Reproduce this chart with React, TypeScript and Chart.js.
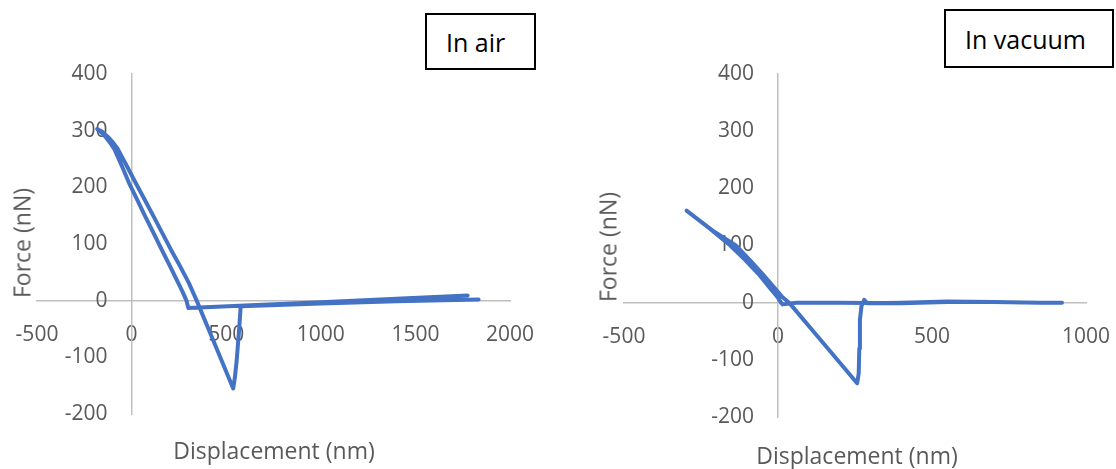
import React, { useEffect, useRef } from "react";
import { Chart, registerables } from "chart.js";

Chart.register(...registerables);

// ---- Data: "In air" (displacement nm, force nN), traced in drawing order ----
const airX = [1776, 1400, 1000, 600, 300, 290, 269, 247, 203, 159, 115, 70, 28, -14, -52, -92, -110, -135, -160, -182, -155, -125, -98, -74, -26, 21, 68, 114, 161, 208, 256, 303, 344, 440, 537, 546, 555, 569, 576, 580, 1000, 1400, 1834];
const airY = [9, 3.4, -2.6, -8.5, -13, 0, 16, 31, 61, 90, 120, 150, 179, 208, 238, 268, 277, 288, 297, 303, 298, 289, 279, 268, 238, 208, 179, 150, 120, 90, 61, 31, 0, -77, -155, -135, -107, -48, -13, -10, -5, -1, 2];

// ---- Data: "In vacuum" ----
const vacX = [920, 850, 700, 550, 400, 200, 60, 15, 10, -2, -25, -63, -107, -155, -222, -297, -212, -137, -92, -50, -10, 14, 36, 146, 257, 262, 264, 266, 271, 280, 290, 400, 550, 700, 850, 922];
const vacY = [0, 0, 1, 1, -1, 0, 0, -3, 0, 10, 25, 50, 75, 100, 130, 161, 126, 100, 75, 50, 25, 10, 0, -70, -141, -124, -80, -30, -6, 5, -1, 0, 2, 1, 0, 0];

// ---- Axis ticks ----
const airXTicks = [-500, 0, 500, 1000, 1500, 2000];
const vacXTicks = [-500, 0, 500, 1000];
const forceTicks = [-200, -100, 0, 100, 200, 300, 400];

const BLUE = "#4472C4";
const AXIS = "#BFBFBF";
const LABEL = "#595959";
const FONT = "'Open Sans', 'Liberation Sans', sans-serif";
const LABEL_GAP = 24;

const zeroPadding = (s: any) => {
  s.paddingLeft = 0;
  s.paddingRight = 0;
  s.paddingTop = 0;
  s.paddingBottom = 0;
};

type PanelProps = {
  xs: number[];
  ys: number[];
  xTicks: number[];
  left: number;
  width: number;
  pad: { left: number; right: number; top: number; bottom: number };
};

function Panel({ xs, ys, xTicks, left, width, pad }: PanelProps) {
  const ref = useRef<HTMLCanvasElement | null>(null);
  useEffect(() => {
    if (!ref.current) return;
    const xMin = xTicks[0];
    const xMax = xTicks[xTicks.length - 1];
    const xStep = xTicks[1] - xTicks[0];
    const yMin = forceTicks[0];
    const yMax = forceTicks[forceTicks.length - 1];
    const yStep = forceTicks[1] - forceTicks[0];
    const areaW = width - pad.left - pad.right;
    // x value lying LABEL_GAP px left of x = 0: anchor for the y tick labels
    const labelX = (-LABEL_GAP * (xMax - xMin)) / areaW;
    const tickFont = { family: FONT, size: 21 };
    const noGrid = { drawOnChartArea: false, drawTicks: false };
    const chart = new Chart(ref.current, {
      type: "scatter",
      data: {
        datasets: [
          {
            data: xs.map((x, i) => ({ x, y: ys[i] })),
            showLine: true,
            borderColor: BLUE,
            backgroundColor: BLUE,
            borderWidth: 4,
            pointRadius: 0,
            tension: 0,
            borderJoinStyle: "round",
            borderCapStyle: "round",
          },
        ],
      },
      options: {
        animation: false,
        responsive: false,
        maintainAspectRatio: false,
        layout: { padding: pad },
        plugins: { legend: { display: false }, tooltip: { enabled: false } },
        scales: {
          x: {
            type: "linear",
            position: { y: 0 } as any,
            min: xMin,
            max: xMax,
            ticks: {
              stepSize: xStep,
              color: LABEL,
              font: tickFont,
              padding: 22,
              maxRotation: 0,
              autoSkip: false,
              callback: (v: any) => String(v),
            },
            grid: noGrid,
            border: { color: AXIS, width: 1.5 },
            afterFit: zeroPadding,
          },
          y: {
            type: "linear",
            position: { x: 0 } as any,
            min: yMin,
            max: yMax,
            ticks: { display: false, stepSize: yStep },
            grid: noGrid,
            border: { color: AXIS, width: 1.5 },
            afterFit: zeroPadding,
          },
          yLabels: {
            type: "linear",
            axis: "y",
            position: { x: labelX } as any,
            min: yMin,
            max: yMax,
            ticks: {
              stepSize: yStep,
              color: LABEL,
              font: tickFont,
              autoSkip: false,
              callback: (v: any) => String(v),
            },
            grid: noGrid,
            border: { display: false },
            afterFit: zeroPadding,
          },
        },
      },
    });
    return () => chart.destroy();
  }, []);
  return (
    <canvas
      ref={ref}
      width={width}
      height={469}
      style={{ position: "absolute", left, top: 0, width, height: 469, display: "block" }}
    />
  );
}

const textBase: React.CSSProperties = {
  position: "absolute",
  fontFamily: FONT,
  whiteSpace: "nowrap",
  lineHeight: 1,
};

function YTitle({ cx, cy }: { cx: number; cy: number }) {
  return (
    <div
      style={{
        ...textBase,
        left: cx,
        top: cy,
        fontSize: 23,
        color: LABEL,
        transform: "translate(-50%, -50%) rotate(-90deg)",
      }}
    >
      Force (nN)
    </div>
  );
}

function XTitle({ cx, cy }: { cx: number; cy: number }) {
  return (
    <div
      style={{
        ...textBase,
        left: cx,
        top: cy,
        fontSize: 23,
        color: LABEL,
        transform: "translate(-50%, -50%)",
      }}
    >
      Displacement (nm)
    </div>
  );
}

function Box({ x, y, w, h, text }: { x: number; y: number; w: number; h: number; text: string }) {
  return (
    <div
      style={{
        position: "absolute",
        left: x,
        top: y,
        width: w,
        height: h,
        boxSizing: "border-box",
        border: "2px solid #000",
        background: "#fff",
        display: "flex",
        alignItems: "center",
        paddingLeft: 19,
        fontFamily: FONT,
        fontSize: 25,
        color: "#000",
        whiteSpace: "nowrap",
      }}
    >
      {text}
    </div>
  );
}

export default function App() {
  return (
    <div
      style={{
        position: "absolute",
        left: 0,
        top: 0,
        width: 1116,
        height: 469,
        background: "#fff",
        overflow: "hidden",
      }}
    >
      <Panel xs={airX} ys={airY} xTicks={airXTicks} left={0} width={560} pad={{ left: 37, right: 50, top: 74, bottom: 55 }} />
      <Panel xs={vacX} ys={vacY} xTicks={vacXTicks} left={560} width={556} pad={{ left: 64, right: 30, top: 74, bottom: 52 }} />
      <YTitle cx={22} cy={243} />
      <YTitle cx={608} cy={247} />
      <XTitle cx={274} cy={450} />
      <XTitle cx={857} cy={455} />
      <Box x={425} y={13} w={111} h={57} text="In air" />
      <Box x={944} y={9} w={170} h={59} text="In vacuum" />
    </div>
  );
}
